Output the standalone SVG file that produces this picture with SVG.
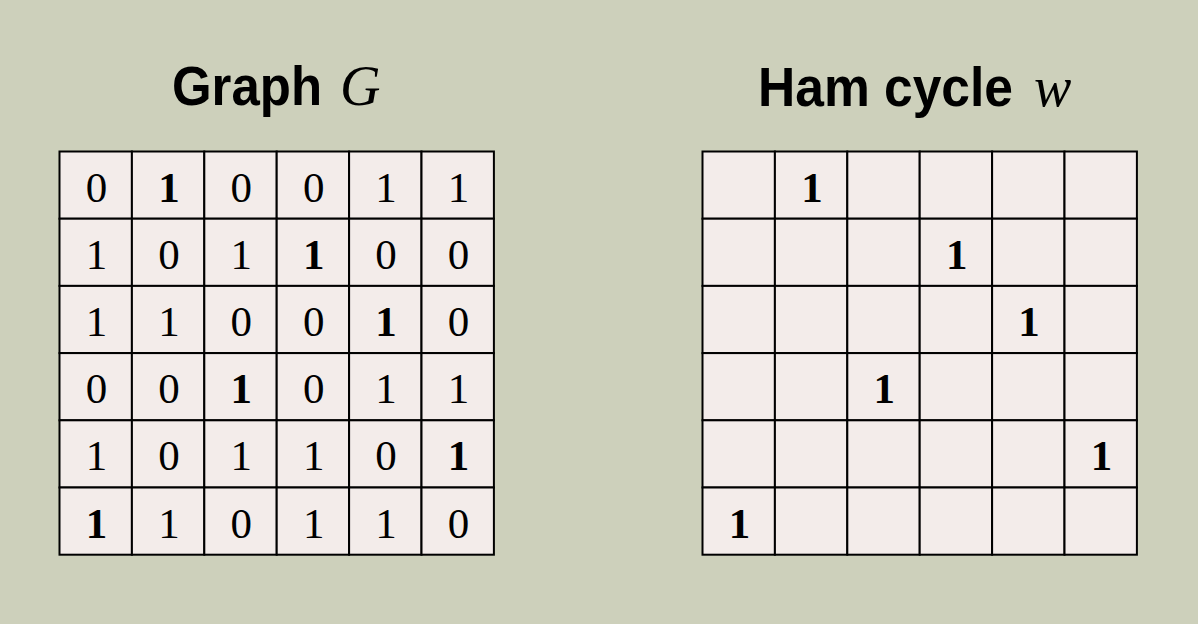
<svg xmlns="http://www.w3.org/2000/svg" width="1198" height="624" viewBox="0 0 1198 624">
<style>
.bg{fill:#cdd0bb}
.cell{fill:#f3ecea;stroke:#000;stroke-width:2}
.t{font-family:"Liberation Sans",Arial,sans-serif;font-weight:bold;font-size:55px;fill:#000}
.m{font-family:"Liberation Serif","Times New Roman",serif;font-style:italic;font-size:56px;fill:#000}
.d{font-family:"Liberation Serif","Times New Roman",serif;font-size:43px;fill:#000;text-anchor:middle}
.b{font-weight:bold}
</style>
<defs>
<g id="row">
<rect class="cell" x="0" y="0" width="72.4" height="67.2"/>
<rect class="cell" x="72.4" y="0" width="72.4" height="67.2"/>
<rect class="cell" x="144.8" y="0" width="72.4" height="67.2"/>
<rect class="cell" x="217.2" y="0" width="72.4" height="67.2"/>
<rect class="cell" x="289.6" y="0" width="72.4" height="67.2"/>
<rect class="cell" x="362" y="0" width="72.4" height="67.2"/>
</g>
</defs>
<rect class="bg" x="0" y="0" width="1198" height="624"/>
<g id="title-graph">
<text class="t" x="172" y="105" textLength="150" lengthAdjust="spacingAndGlyphs">Graph</text>
<text class="m" x="340" y="105">G</text>
</g>
<g id="title-ham">
<text class="t" x="758" y="106" textLength="255" lengthAdjust="spacingAndGlyphs">Ham cycle</text>
<text class="m" x="1034" y="106" font-size="60">w</text>
</g>
<g id="graph-matrix">
<use href="#row" x="59.5" y="151.5"/>
<use href="#row" x="59.5" y="218.7"/>
<use href="#row" x="59.5" y="285.9"/>
<use href="#row" x="59.5" y="353.1"/>
<use href="#row" x="59.5" y="420.3"/>
<use href="#row" x="59.5" y="487.5"/>
<g transform="translate(59.5,151.5)">
<text class="d" x="37" y="50">0</text><text class="d b" x="109.4" y="50">1</text><text class="d" x="181.8" y="50">0</text><text class="d" x="254.2" y="50">0</text><text class="d" x="326.6" y="50">1</text><text class="d" x="399" y="50">1</text>
<text class="d" x="37" y="117.2">1</text><text class="d" x="109.4" y="117.2">0</text><text class="d" x="181.8" y="117.2">1</text><text class="d b" x="254.2" y="117.2">1</text><text class="d" x="326.6" y="117.2">0</text><text class="d" x="399" y="117.2">0</text>
<text class="d" x="37" y="184.4">1</text><text class="d" x="109.4" y="184.4">1</text><text class="d" x="181.8" y="184.4">0</text><text class="d" x="254.2" y="184.4">0</text><text class="d b" x="326.6" y="184.4">1</text><text class="d" x="399" y="184.4">0</text>
<text class="d" x="37" y="251.6">0</text><text class="d" x="109.4" y="251.6">0</text><text class="d b" x="181.8" y="251.6">1</text><text class="d" x="254.2" y="251.6">0</text><text class="d" x="326.6" y="251.6">1</text><text class="d" x="399" y="251.6">1</text>
<text class="d" x="37" y="318.8">1</text><text class="d" x="109.4" y="318.8">0</text><text class="d" x="181.8" y="318.8">1</text><text class="d" x="254.2" y="318.8">1</text><text class="d" x="326.6" y="318.8">0</text><text class="d b" x="399" y="318.8">1</text>
<text class="d b" x="37" y="386">1</text><text class="d" x="109.4" y="386">1</text><text class="d" x="181.8" y="386">0</text><text class="d" x="254.2" y="386">1</text><text class="d" x="326.6" y="386">1</text><text class="d" x="399" y="386">0</text>
</g>
</g>
<g id="ham-matrix">
<use href="#row" x="702.5" y="151.5"/>
<use href="#row" x="702.5" y="218.7"/>
<use href="#row" x="702.5" y="285.9"/>
<use href="#row" x="702.5" y="353.1"/>
<use href="#row" x="702.5" y="420.3"/>
<use href="#row" x="702.5" y="487.5"/>
<g transform="translate(702.5,151.5)">
<text class="d b" x="109.4" y="50">1</text>
<text class="d b" x="254.2" y="117.2">1</text>
<text class="d b" x="326.6" y="184.4">1</text>
<text class="d b" x="181.8" y="251.6">1</text>
<text class="d b" x="399" y="318.8">1</text>
<text class="d b" x="37" y="386">1</text>
</g>
</g>
</svg>
